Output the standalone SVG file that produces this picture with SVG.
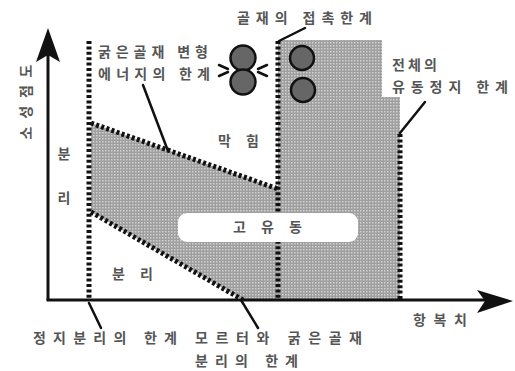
<svg xmlns="http://www.w3.org/2000/svg" width="515" height="371" viewBox="0 0 515 371">
<style>
  text { font-family: "Noto Sans CJK KR", "Noto Sans", sans-serif; font-size: 14px; font-weight: bold; fill: #555; }
  .dot { fill: none; stroke: #111; stroke-width: 5; stroke-dasharray: 3 2.4; }
  .lead { fill: none; stroke: #111; stroke-width: 2.5; stroke-linecap: round; }
  .axis { fill: none; stroke: #111; stroke-width: 3; }
  .ball { fill: #666; stroke: #111; stroke-width: 2.5; }
  .shade { fill: url(#halftone); }
</style>
<defs>
  <pattern id="halftone" width="3" height="3" patternUnits="userSpaceOnUse">
    <rect width="3" height="3" fill="#9f9f9f"/>
    <rect width="1.5" height="1.5" fill="#d2d2d2"/>
  </pattern>
</defs>
<rect width="515" height="371" fill="#fff"/>

<g id="regions">
  <polygon class="shade" points="91,123 278,189 278,300 243,300 91,212"/>
  <polygon class="shade" points="278,40 382,40 382,97 400,97 400,300 278,300"/>
</g>

<g id="axes">
  <line class="axis" x1="48" y1="300" x2="48" y2="50"/>
  <path d="M48,28 L60,62 L48,55 L36,62 Z" fill="#111"/>
  <line class="axis" x1="46.5" y1="300" x2="495" y2="300"/>
  <path d="M513,301 L477,290 L485,301 L477,313 Z" fill="#111"/>
</g>

<g id="connectors">
  <line class="dot" x1="89" y1="41" x2="89" y2="301"/>
  <line class="dot" x1="278" y1="41" x2="278" y2="301"/>
  <line class="dot" x1="400" y1="134" x2="400" y2="301"/>
  <line class="dot" x1="91" y1="123" x2="278" y2="189"/>
  <line class="dot" x1="91" y1="212" x2="243" y2="300"/>
  <line class="lead" x1="143" y1="85" x2="168" y2="151"/>
  <line class="lead" x1="279" y1="41" x2="305" y2="28"/>
  <line class="lead" x1="400" y1="133" x2="425" y2="102"/>
  <line class="lead" x1="89" y1="303" x2="101" y2="328"/>
  <line class="lead" x1="241" y1="300" x2="258" y2="328"/>
</g>

<g id="aggregate-contact">
  <circle class="ball" cx="243" cy="58" r="12.5"/>
  <circle class="ball" cx="243" cy="82" r="12.5"/>
  <g class="lead" stroke-width="2">
    <line x1="219" y1="65" x2="228" y2="69"/>
    <line x1="219" y1="76" x2="228" y2="72"/>
    <line x1="267" y1="65" x2="258" y2="69"/>
    <line x1="267" y1="76" x2="258" y2="72"/>
  </g>
</g>

<g id="aggregate-separate">
  <circle class="ball" cx="302" cy="58" r="12"/>
  <circle class="ball" cx="303" cy="90" r="12"/>
</g>

<g id="label-yaxis">
  <text transform="translate(25,102) rotate(-90)" text-anchor="middle" dominant-baseline="central" textLength="75" lengthAdjust="spacing">소성점도</text>
</g>

<g id="label-xaxis">
  <text x="413" y="325" textLength="54" lengthAdjust="spacing">항복치</text>
</g>

<g id="label-contact">
  <text x="237" y="23" textLength="135" lengthAdjust="spacing">골재의 접촉한계</text>
</g>

<g id="label-deform">
  <text x="98" y="57" textLength="110" lengthAdjust="spacing">굵은골재 변형</text>
  <text x="98" y="79" textLength="112" lengthAdjust="spacing">에너지의 한계</text>
</g>

<g id="label-flowstop">
  <text x="392" y="70" textLength="45" lengthAdjust="spacing">전체의</text>
  <text x="392" y="92" textLength="116" lengthAdjust="spacing">유동정지 한계</text>
</g>

<g id="label-blockage">
  <text x="218" y="146" textLength="41" lengthAdjust="spacing">막 힘</text>
</g>

<g id="label-sep-left">
  <text x="64" y="153" text-anchor="middle" dominant-baseline="central">분</text>
  <text x="64" y="197" text-anchor="middle" dominant-baseline="central">리</text>
</g>

<g id="label-sep-bottom">
  <text x="112" y="279" textLength="41" lengthAdjust="spacing">분 리</text>
</g>

<g id="high-fluidity">
  <rect x="178" y="213" width="180" height="29" rx="9" fill="#fff"/>
  <text x="233" y="232" textLength="69" lengthAdjust="spacing">고 유 동</text>
</g>

<g id="label-static-sep">
  <text x="33" y="343" textLength="144" lengthAdjust="spacing">정지분리의 한계</text>
</g>

<g id="label-mortar-sep">
  <text x="195" y="343" textLength="167" lengthAdjust="spacing">모르터와 굵은골재</text>
  <text x="195" y="366" textLength="103" lengthAdjust="spacing">분리의 한계</text>
</g>
</svg>
